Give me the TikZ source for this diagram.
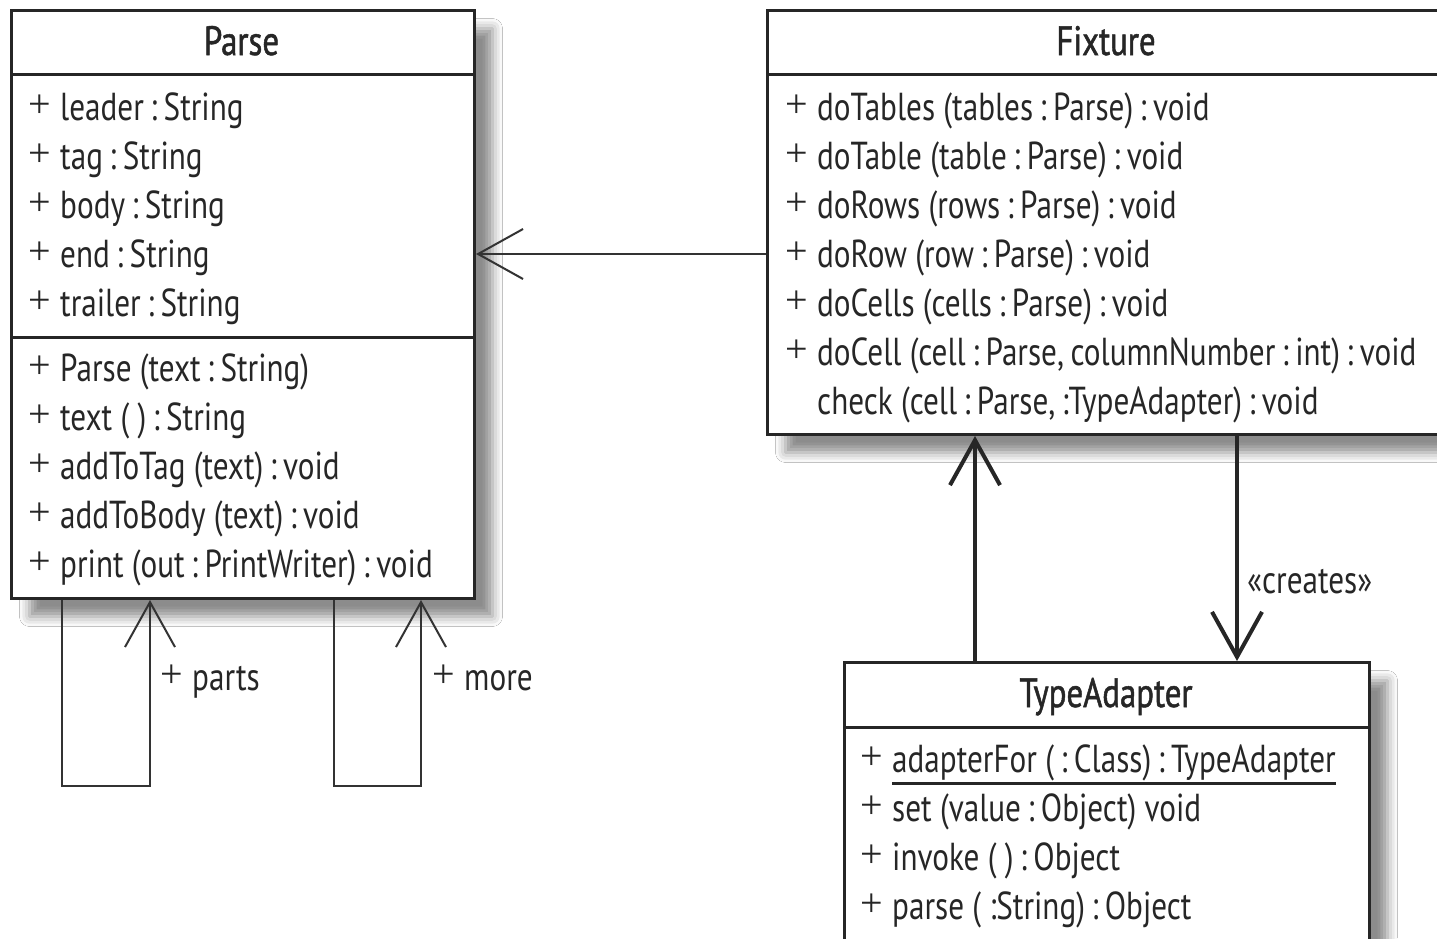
\documentclass[tikz,border=0pt]{standalone}
\usepackage{fontspec}
\setmainfont{PT Sans}[FakeStretch=0.8]
\newfontfamily\plusfont{Liberation Serif}
\usetikzlibrary{shadows.blur,arrows.meta}
\newcommand\bodyf{\fontsize{39}{49}\selectfont}
\newcommand\headf{\fontsize{41}{49}\selectfont\addfontfeatures{FakeBold=1.2}}
\newcommand\ucol{\,:\,}
\newcommand\plsym{\raisebox{2.5pt}{\plusfont\fontsize{40}{40}\selectfont +}}
\newcommand\pl{\makebox[32pt][l]{\plsym}}
\begin{document}
\begin{tikzpicture}[x=1pt,y=-1pt,
  classbox/.style={draw=black!85, line width=3pt, fill=white, rectangle, anchor=north west, inner sep=0,
     blur shadow={shadow xshift=18pt, shadow yshift=-18pt, shadow blur radius=10pt, shadow opacity=45}},
  sepline/.style={line width=3pt, black!85},
  mem/.style={anchor=base west, inner sep=0, font=\bodyf, text=black!85},
  lbl/.style={anchor=base west, inner sep=0, font=\bodyf, text=black!85},
  classhead/.style={anchor=base, inner sep=0, font=\headf, text=black!85},
  assocthin/.style={line width=2pt, black!80, -{Straight Barb[length=45pt,width=50pt]}},
  assocthick/.style={line width=4pt, black!85, -{Straight Barb[length=45pt,width=50pt]}}]
\useasboundingbox (0,0) rectangle (1437,938);
\fill[white] (0,0) rectangle (1437,938);
\clip (0,0) rectangle (1437,938);

% boxes
\node[classbox, minimum width=463pt, minimum height=588pt] (parse) at (10,9) {};
\node[classbox, minimum width=700pt, minimum height=424pt] (fixture) at (766,9) {};
\node[classbox, minimum width=525pt, minimum height=330pt] (tadapter) at (843,661) {};

% separators
\draw[sepline] (parse.west |- 0,74) -- (parse.east |- 0,74);
\draw[sepline] (parse.west |- 0,337) -- (parse.east |- 0,337);
\draw[sepline] (fixture.west |- 0,74) -- (fixture.east |- 0,74);
\draw[sepline] (tadapter.west |- 0,727) -- (tadapter.east |- 0,727);

% Parse
\node[classhead] (parseh) at (241.5,55) {Parse};
\node[mem] (pa1) at (28,120) {\pl leader\ucol String};
\node[mem] (pa2) at (28,169) {\pl tag\ucol String};
\node[mem] (pa3) at (28,218) {\pl body\ucol String};
\node[mem] (pa4) at (28,267) {\pl end\ucol String};
\node[mem] (pa5) at (28,316) {\pl trailer\ucol String};
\node[mem] (pm1) at (28,381) {\pl Parse (text\ucol String)};
\node[mem] (pm2) at (28,430) {\pl text ( )\ucol String};
\node[mem] (pm3) at (28,479) {\pl addToTag (text)\ucol void};
\node[mem] (pm4) at (28,528) {\pl addToBody (text)\ucol void};
\node[mem] (pm5) at (28,577) {\pl print (out\ucol PrintWriter)\ucol void};

% Fixture
\node[classhead] (fixtureh) at (1106,55) {Fixture};
\node[mem] (fm1) at (785,120) {\pl doTables (tables\ucol Parse)\ucol void};
\node[mem] (fm2) at (785,169) {\pl doTable (table\ucol Parse)\ucol void};
\node[mem] (fm3) at (785,218) {\pl doRows (rows\ucol Parse)\ucol void};
\node[mem] (fm4) at (785,267) {\pl doRow (row\ucol Parse)\ucol void};
\node[mem] (fm5) at (785,316) {\pl doCells (cells\ucol Parse)\ucol void};
\node[mem] (fm6) at (785,365) {\pl doCell (cell\ucol Parse,\,columnNumber\ucol int)\ucol void};
\node[mem] (fm7) at (817,414) {check (cell\ucol Parse,\,:TypeAdapter)\ucol void};

% TypeAdapter
\node[classhead] (tadapterh) at (1106,707) {TypeAdapter};
\node[mem] (tp1) at (860,772) {\plsym};
\node[mem] (tm1) at (892,772) {adapterFor (\,:\,Class)\ucol TypeAdapter};
\draw[line width=3pt, black!85] (tm1.west |- 0,783) -- (tm1.east |- 0,783);
\node[mem] (tm2) at (860,821) {\pl set (value\ucol Object) void};
\node[mem] (tm3) at (860,870) {\pl invoke ( )\ucol Object};
\node[mem] (tm4) at (860,919) {\pl parse ( :String)\ucol Object};

% connectors
\coordinate (c1) at (0,254);
\draw[assocthin] (fixture.west |- c1) -- (parse.east |- c1);

\coordinate (c2) at (975,0);
\draw[assocthick] (tadapter.north -| c2) -- (fixture.south -| c2);
\coordinate (c3) at (1237,0);
\draw[assocthick] (fixture.south -| c3) -- (tadapter.north -| c3);
\node[lbl] (creates) at (1247,593) {«creates»};

% self loops
\draw[assocthin] (parse.south -| 62,0) -- (62,786) -- (150,786) -- (parse.south -| 150,0);
\node[lbl] (parts) at (160,690) {\pl parts};
\draw[assocthin] (parse.south -| 334,0) -- (334,786) -- (421,786) -- (parse.south -| 421,0);
\node[lbl] (more) at (432,690) {\pl more};
\end{tikzpicture}
\end{document}
